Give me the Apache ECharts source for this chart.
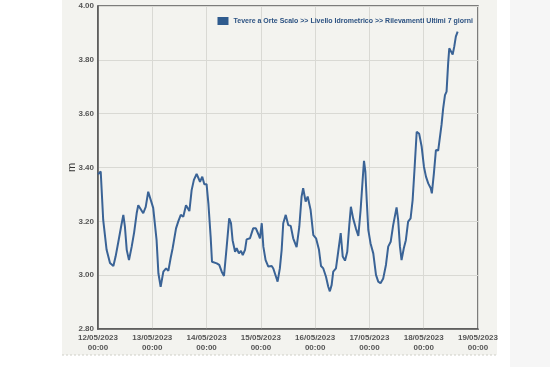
<!DOCTYPE html>
<html>
<head>
<meta charset="utf-8">
<script src="https://cdn.jsdelivr.net/npm/echarts@6/dist/echarts.min.js"></script>
<style>
  html, body { margin: 0; padding: 0; background: #fff; }
  #chart { width: 550px; height: 367px; }
</style>
</head>
<body>
<div id="chart"></div>
<script>
// ore dall'inizio (12/05/2023 00:00) e livello idrometrico (m)
var hours = [0, 1.2, 2.3, 3.8, 5.3, 6.8, 7.8, 9.0, 10.2, 11.2, 11.9, 12.7, 13.7, 14.9, 16.0, 17.1, 17.8, 18.6, 20.0, 21.1,
  22.2, 23.0, 24.4, 25.9, 26.7, 27.7, 28.9, 30.1, 31.1, 32.1, 33.0, 34.5, 35.5, 36.6, 37.7, 38.9, 40.4, 41.4, 42.4, 43.6,
  45.1, 46.1, 47.0, 48.0, 48.8, 49.8, 50.4, 52.5, 53.6, 54.7, 55.7, 56.9, 58.0, 58.8, 59.5, 60.6, 61.3, 62.3, 63.2, 64.0,
  65.0, 65.7, 67.2, 68.6, 69.8, 70.9, 71.6, 72.4, 73.1, 74.1, 75.3, 76.8, 77.5, 78.7, 79.4, 80.4, 81.2, 81.9, 83.0, 84.1,
  85.2, 86.3, 87.8, 89.0, 90.0, 90.7, 91.8, 92.7, 94.0, 95.2, 96.4, 97.7, 98.6, 99.6, 100.8, 101.8, 102.5, 103.3, 104.0, 105.2,
  106.2, 107.3, 108.2, 109.2, 110.2, 111.1, 111.8, 112.8, 114.0, 115.1, 116.1, 117.0, 117.6, 118.2, 118.8, 119.5, 120.5, 121.7, 122.9, 123.9,
  124.9, 126.1, 127.3, 128.3, 129.4, 130.5, 132.0, 132.7, 133.5, 134.2, 135.2, 136.1, 137.1, 138.2, 139.1, 140.0, 140.9, 142.0, 143.1, 144.1,
  145.0, 146.0, 147.1, 147.6, 148.5, 149.4, 150.4, 151.2, 151.9, 152.6, 153.4, 154.1, 154.8, 155.3, 155.9, 156.8, 157.5, 158.2, 159.0]
var levels = [3.375, 3.385, 3.205, 3.094, 3.045, 3.034, 3.07, 3.124, 3.18, 3.224, 3.18, 3.094, 3.056, 3.106, 3.16, 3.23, 3.26, 3.267, 3.23, 3.254,
  3.31, 3.315, 3.25, 3.13, 3.007, 2.957, 3.013, 3.025, 3.016, 3.063, 3.10, 3.174, 3.20, 3.224, 3.217, 3.26, 3.238, 3.316, 3.354, 3.376,
  3.347, 3.366, 3.338, 3.338, 3.267, 3.143, 3.05, 3.044, 3.038, 3.013, 2.997, 3.106, 3.211, 3.193, 3.13, 3.087, 3.10, 3.081, 3.09, 3.075,
  3.094, 3.133, 3.137, 3.174, 3.174, 3.152, 3.137, 3.193, 3.106, 3.056, 3.032, 3.034, 3.025, 2.994, 2.976, 3.025, 3.094, 3.193, 3.224, 3.186,
  3.183, 3.137, 3.104, 3.18, 3.292, 3.323, 3.273, 3.292, 3.242, 3.149, 3.137, 3.094, 3.034, 3.025, 2.994, 2.957, 2.94, 2.964, 3.013, 3.025,
  3.087, 3.156, 3.069, 3.054, 3.087, 3.186, 3.254, 3.211, 3.174, 3.146, 3.242, 3.354, 3.425, 3.385, 3.279, 3.168, 3.118, 3.081, 3.001, 2.976,
  2.97, 2.988, 3.038, 3.106, 3.124, 3.186, 3.252, 3.205, 3.106, 3.056, 3.10, 3.13, 3.199, 3.211, 3.279, 3.403, 3.533, 3.525, 3.477, 3.403,
  3.366, 3.341, 3.323, 3.304, 3.378, 3.465, 3.463, 3.465, 3.56, 3.62, 3.669, 3.682, 3.787, 3.843, 3.837, 3.82, 3.849, 3.886, 3.905]
var dayLabels = ['12/05/2023\n00:00', '13/05/2023\n00:00', '14/05/2023\n00:00', '15/05/2023\n00:00',
  '16/05/2023\n00:00', '17/05/2023\n00:00', '18/05/2023\n00:00', '19/05/2023\n00:00']
var seriesName = 'Tevere a Orte Scalo >> Livello Idrometrico >> Rilevamenti Ultimi 7 giorni'

var chart = echarts.init(document.getElementById('chart'))
var points = hours.map(function (h, i) { return [h, levels[i]] })

var option = {
  backgroundColor: '#ffffff',
  animation: false,
  textStyle: { fontFamily: 'Liberation Sans, Arial, sans-serif' },
  graphic: [
    // pannello grigio chiaro
    { type: 'rect', z: -10, shape: { x: 62, y: 0, width: 435, height: 355 }, style: { fill: '#f3f3ef' } },
    { type: 'line', z: -9, shape: { x1: 62, y1: 355, x2: 497, y2: 355 }, style: { stroke: '#cfcfc8', lineWidth: 1, lineDash: [2, 2] } },
    { type: 'rect', z: -10, shape: { x: 510, y: 0, width: 40, height: 367 }, style: { fill: '#f6f6f6' } }
  ],
  grid: {
    left: 98, right: 72, top: 6, bottom: 38,
    show: true, borderColor: '#555', borderWidth: 1.5, backgroundColor: 'transparent'
  },
  legend: {
    right: 72, top: 12,
    itemWidth: 11, itemHeight: 8, itemGap: 4,
    icon: 'rect',
    data: [seriesName],
    textStyle: { color: '#2c5282', fontSize: 7, fontWeight: 'bold' }
  },
  xAxis: {
    type: 'value',
    min: 0, max: 168, interval: 24,
    axisLine: { show: true, lineStyle: { color: '#555', width: 1.5 } },
    axisTick: { show: false },
    splitLine: { show: true, lineStyle: { color: '#d9d9d4', width: 1 } },
    axisLabel: {
      color: '#555', fontSize: 8, fontWeight: 'bold', lineHeight: 10, margin: 4,
      formatter: function (v) { return dayLabels[Math.round(v / 24)] }
    }
  },
  yAxis: {
    type: 'value',
    min: 2.8, max: 4.0, interval: 0.2,
    name: 'm', nameLocation: 'middle', nameGap: 21, nameRotate: 90,
    nameMoveOverlap: false,
    nameTextStyle: { color: '#333', fontSize: 11 },
    axisLine: { show: true, lineStyle: { color: '#555', width: 1.5 } },
    axisTick: { show: false },
    splitLine: { show: true, lineStyle: { color: '#d9d9d4', width: 1 } },
    axisLabel: {
      color: '#555', fontSize: 8, fontWeight: 'bold', margin: 4,
      formatter: function (v) { return v.toFixed(2) }
    }
  },
  series: [
    {
      name: seriesName,
      type: 'line',
      data: points,
      showSymbol: false,
      itemStyle: { color: '#2f5b8e' },
      lineStyle: { color: '#3a6396', width: 2 }
    }
  ]
}
chart.setOption(option)
</script>
</body>
</html>
